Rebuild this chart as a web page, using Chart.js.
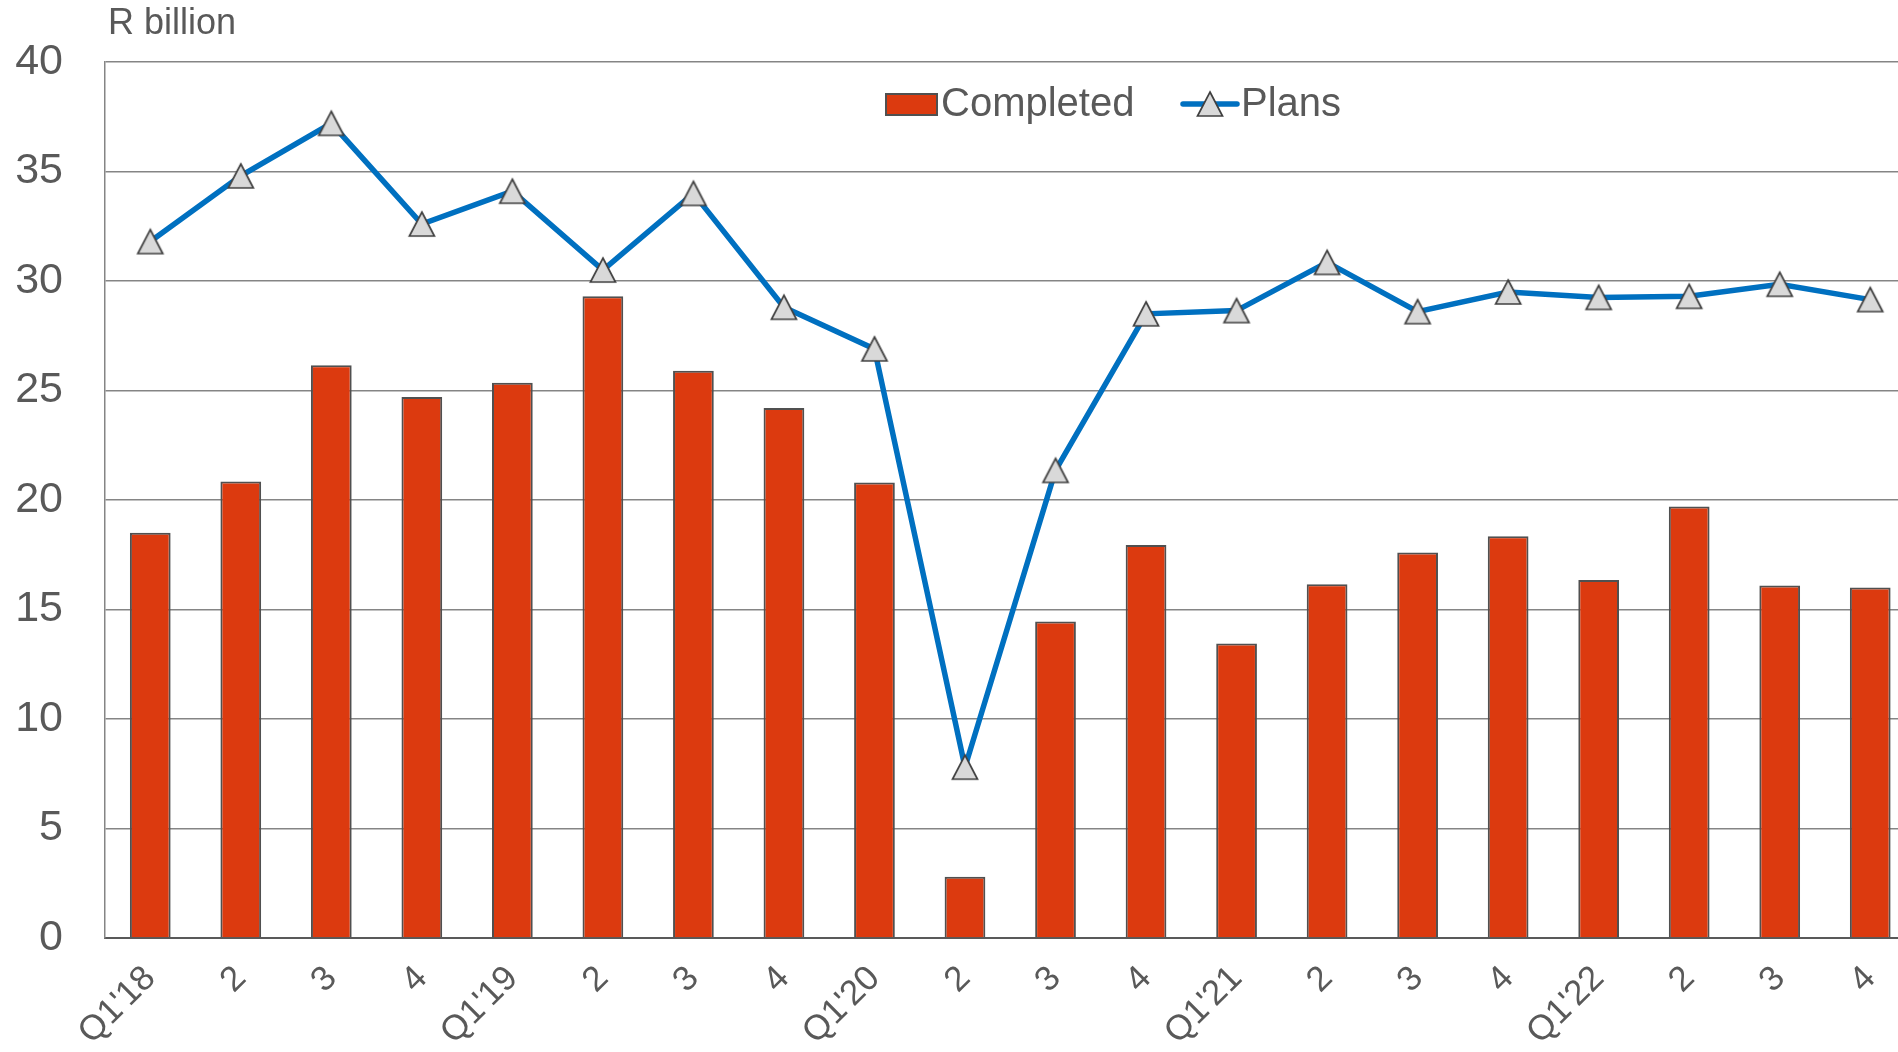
<!DOCTYPE html>
<html>
<head>
<meta charset="utf-8">
<script src="https://cdn.jsdelivr.net/npm/chart.js@4.4.1/dist/chart.umd.min.js"></script>
<style>
  html, body { margin: 0; padding: 0; background: #fff; overflow: hidden; }
  #wrap { width: 1935px; height: 1052px; }
</style>
</head>
<body>
<div id="wrap"><canvas id="myChart" width="1935" height="1052"></canvas></div>
<script>
// quarters, Q1 2018 .. Q4 2022
var quarters = ["Q1'18", "2", "3", "4", "Q1'19", "2", "3", "4", "Q1'20", "2", "3", "4",
                "Q1'21", "2", "3", "4", "Q1'22", "2", "3", "4"];
var completed = [18.5, 20.85, 26.15, 24.7, 25.35, 29.3, 25.9, 24.2, 20.8, 2.8,
                 14.45, 17.95, 13.45, 16.15, 17.6, 18.35, 16.35, 19.7, 16.1, 16.0];
var plans = [31.8, 34.8, 37.2, 32.6, 34.1, 30.5, 34.0, 28.8, 26.9, 7.8,
             21.35, 28.5, 28.65, 30.85, 28.6, 29.5, 29.25, 29.3, 29.85, 29.15];
var yTicks = [0, 5, 10, 15, 20, 25, 30, 35, 40];

var barRed = '#DC3A0F';
var lineBlue = '#0070C0';
var textGrey = '#595959';
var font = '"Liberation Sans", Arial, sans-serif';

// triangle marker as a small canvas (box-centred like the original)
var tri = document.createElement('canvas');
tri.width = 30;
tri.height = 30;
(function () {
    var t = tri.getContext('2d');
    t.fillStyle = '#D9D9D9';
    t.strokeStyle = '#404040';
    t.lineWidth = 1.7;
    t.beginPath();
    t.moveTo(15, 3);
    t.lineTo(27.5, 27);
    t.lineTo(2.5, 27);
    t.closePath();
    t.fill();
    t.stroke();
})();

// unit label and legend drawn on the canvas
var extras = {
    id: 'extras',
    afterDraw: function (chart) {
        var c = chart.ctx;
        c.save();
        c.fillStyle = textGrey;
        c.textBaseline = 'middle';
        c.textAlign = 'left';
        c.font = '36px ' + font;
        c.fillText('R billion', 108, 24);

        var ly = 104;
        c.font = '40px ' + font;
        c.fillStyle = barRed;
        c.fillRect(886, 94, 51, 21);
        c.strokeStyle = '#505050';
        c.lineWidth = 2;
        c.strokeRect(886, 94, 51, 21);
        c.fillStyle = textGrey;
        c.fillText('Completed', 941, ly + 1);

        c.strokeStyle = lineBlue;
        c.lineWidth = 5.5;
        c.lineCap = 'round';
        c.beginPath();
        c.moveTo(1183, ly);
        c.lineTo(1237, ly);
        c.stroke();
        c.drawImage(tri, 1210 - tri.width / 2, ly - tri.height / 2);
        c.fillStyle = textGrey;
        c.fillText('Plans', 1241, ly + 1);
        c.restore();
    }
};

var ctx = document.getElementById('myChart');
var myChart = new Chart(ctx, {
    type: 'bar',
    data: {
        labels: quarters,
        datasets: [{
            type: 'line',
            label: 'Plans',
            data: plans,
            order: 0,
            borderColor: lineBlue,
            borderWidth: 5.5,
            tension: 0,
            fill: false,
            pointStyle: tri,
            pointRadius: 14
        }, {
            label: 'Completed',
            data: completed,
            order: 1,
            backgroundColor: barRed,
            borderColor: '#505050',
            borderWidth: 2,
            categoryPercentage: 1.0,
            barPercentage: 0.45
        }]
    },
    plugins: [extras],
    options: {
        responsive: false,
        animation: false,
        layout: { padding: { top: 62, right: 5, left: 0, bottom: 0 } },
        plugins: {
            legend: { display: false },
            tooltip: { enabled: false }
        },
        scales: {
            x: {
                grid: { display: false, drawTicks: false },
                border: { color: '#595959', width: 2 },
                ticks: {
                    color: textGrey,
                    font: { family: font, size: 35 },
                    minRotation: 45,
                    maxRotation: 45,
                    padding: 20
                },
                afterFit: function (s) {
                    s.height = 114;
                    s.paddingLeft = 0;
                    s.paddingRight = 0;
                }
            },
            y: {
                min: 0,
                max: 40,
                afterBuildTicks: function (s) {
                    s.ticks = yTicks.map(function (v) { return { value: v }; });
                },
                grid: { color: '#858585', lineWidth: 1.5, drawTicks: false },
                border: { color: '#858585', width: 1.5 },
                ticks: {
                    color: textGrey,
                    font: { family: font, size: 43 },
                    padding: 42
                },
                afterFit: function (s) {
                    s.width = 105;
                    s.paddingTop = 0;
                    s.paddingBottom = 0;
                }
            }
        }
    }
});
</script>
</body>
</html>
